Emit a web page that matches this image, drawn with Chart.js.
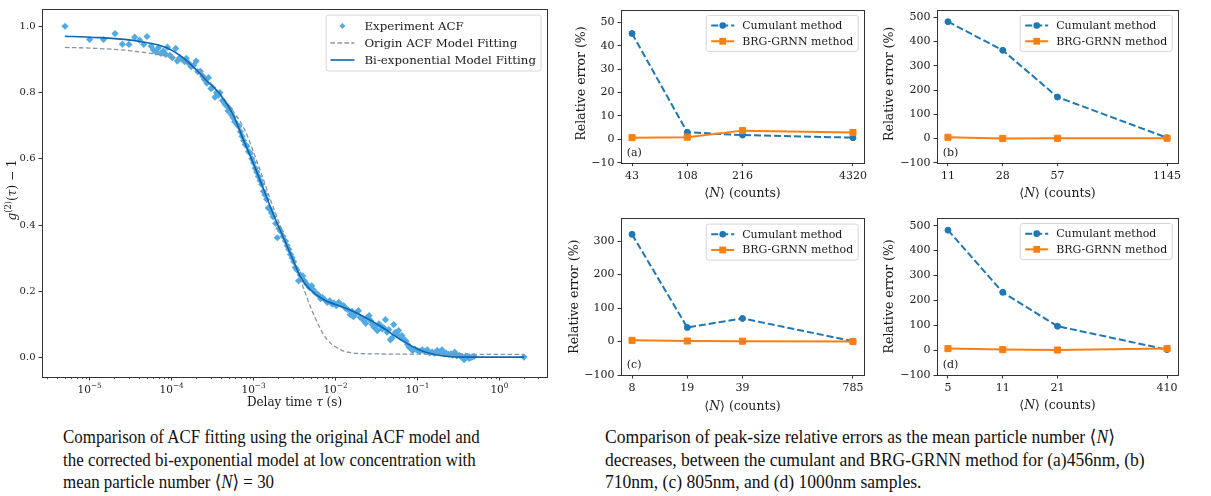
<!DOCTYPE html>
<html><head><meta charset="utf-8">
<script src="https://cdn.jsdelivr.net/npm/chart.js@4.4.0/dist/chart.umd.min.js"></script>
<style>
html,body{margin:0;padding:0;background:#fff;}
body{width:1211px;height:496px;overflow:hidden;position:relative;}
canvas{position:absolute;}
.cap{position:absolute;font-family:"Liberation Serif","Times New Roman","DejaVu Serif",serif;font-size:19px;line-height:22.5px;color:#111;white-space:nowrap;transform:scaleX(0.89);transform-origin:0 0;}
</style></head><body>
<canvas id="c0" width="560" height="420" style="left:0;top:0"></canvas>
<canvas id="ca" width="320" height="205" style="left:560px;top:0"></canvas>
<canvas id="cb" width="331" height="205" style="left:880px;top:0"></canvas>
<canvas id="cc" width="320" height="215" style="left:560px;top:205px"></canvas>
<canvas id="cd" width="331" height="215" style="left:880px;top:205px"></canvas>
<div class="cap" style="left:63px;top:426px">Comparison of ACF fitting using the original ACF model and<br>the corrected bi-exponential model at low concentration with<br>mean particle number ⟨<i>N</i>⟩ = 30</div>
<div class="cap" style="left:605px;top:426px;transform:scaleX(0.924)">Comparison of peak-size relative errors as the mean particle number ⟨<i>N</i>⟩<br>decreases, between the cumulant and BRG-GRNN method for (a)456nm, (b)<br>710nm, (c) 805nm, and (d) 1000nm samples.</div>
<script>
// ---------------- DATA ----------------
// Experiment ACF: [log10(tau / s), g2(tau)-1]
const expACF = [
[-5.30,1.000],[-5.00,0.960],[-4.83,0.960],[-4.69,0.978],[-4.60,0.946],[-4.52,0.945],[-4.45,0.967],[-4.39,0.958],
[-4.34,0.945],[-4.30,0.969],[-4.25,0.940],[-4.22,0.928],[-4.19,0.922],[-4.16,0.935],[-4.13,0.918],[-4.10,0.925],
[-4.07,0.915],[-4.05,0.937],[-4.02,0.912],[-3.99,0.905],[-3.95,0.933],[-3.93,0.895],[-3.90,0.905],[-3.87,0.900],
[-3.84,0.893],[-3.82,0.903],[-3.79,0.888],[-3.76,0.878],[-3.73,0.882],[-3.70,0.895],[-3.68,0.863],[-3.65,0.864],
[-3.62,0.850],[-3.60,0.840],[-3.57,0.828],[-3.55,0.845],[-3.52,0.812],[-3.50,0.815],[-3.47,0.786],[-3.45,0.800],
[-3.43,0.792],[-3.41,0.800],[-3.38,0.776],[-3.35,0.766],[-3.33,0.760],[-3.31,0.745],[-3.29,0.750],[-3.27,0.733],
[-3.25,0.725],[-3.23,0.712],[-3.20,0.703],[-3.18,0.698],[-3.16,0.682],[-3.14,0.668],[-3.12,0.655],[-3.10,0.643],
[-3.08,0.638],[-3.06,0.622],[-3.04,0.617],[-3.02,0.600],[-3.00,0.588],[-2.98,0.572],[-2.96,0.560],[-2.94,0.547],
[-2.92,0.535],[-2.90,0.523],[-2.88,0.502],[-2.86,0.492],[-2.84,0.478],[-2.82,0.452],[-2.80,0.448],[-2.78,0.437],
[-2.76,0.425],[-2.73,0.405],[-2.71,0.362],[-2.69,0.390],[-2.67,0.382],[-2.64,0.366],[-2.61,0.352],[-2.59,0.338],
[-2.57,0.327],[-2.55,0.312],[-2.53,0.302],[-2.51,0.290],[-2.49,0.272],[-2.47,0.265],[-2.45,0.232],[-2.43,0.250],
[-2.40,0.247],[-2.38,0.232],[-2.35,0.222],[-2.32,0.212],[-2.29,0.217],[-2.27,0.205],[-2.25,0.197],[-2.22,0.192],
[-2.20,0.187],[-2.18,0.178],[-2.16,0.182],[-2.13,0.175],[-2.10,0.167],[-2.07,0.172],[-2.04,0.162],[-2.02,0.165],
[-1.99,0.157],[-1.96,0.167],[-1.93,0.160],[-1.90,0.157],[-1.88,0.150],[-1.85,0.145],[-1.82,0.130],[-1.80,0.140],
[-1.78,0.124],[-1.76,0.132],[-1.74,0.137],[-1.72,0.142],[-1.70,0.122],[-1.67,0.118],[-1.655,0.112],[-1.63,0.104],
[-1.61,0.122],[-1.59,0.127],[-1.57,0.112],[-1.55,0.100],[-1.53,0.092],[-1.51,0.095],[-1.49,0.082],[-1.47,0.102],
[-1.45,0.097],[-1.43,0.087],[-1.41,0.090],[-1.39,0.115],[-1.37,0.077],[-1.35,0.085],[-1.33,0.054],[-1.31,0.060],
[-1.29,0.100],[-1.27,0.077],[-1.25,0.070],[-1.23,0.082],[-1.21,0.062],[-1.19,0.067],[-1.16,0.055],[-1.14,0.050],
[-1.12,0.040],[-1.10,0.032],[-1.08,0.028],[-1.06,0.022],[-1.03,0.026],[-1.00,0.022],[-0.97,0.020],[-0.94,0.024],
[-0.91,0.019],[-0.88,0.024],[-0.85,0.015],[-0.82,0.017],[-0.79,0.013],[-0.76,0.022],[-0.73,0.018],[-0.70,0.024],
[-0.67,0.012],[-0.65,0.014],[-0.62,0.010],[-0.59,0.012],[-0.57,0.008],[-0.545,0.017],[-0.52,0.006],[-0.49,0.007],
[-0.47,0.004],[-0.45,0.002],[-0.43,-0.006],[-0.41,0.005],[-0.39,0.004],[-0.37,-0.002],[-0.35,0.000],[-0.33,0.003],
[-0.31,0.004],[0.30,0.002]
];
// Origin ACF model fitting: [tau (s), value]
const originFit = [
[5e-6,0.936],[1e-5,0.934],[3.16e-5,0.926],[1e-4,0.905],[1.78e-4,0.880],[3.16e-4,0.822],[5.6e-4,0.745],
[7.9e-4,0.685],[1.0e-3,0.620],[1.26e-3,0.552],[1.58e-3,0.482],[2.0e-3,0.415],[2.5e-3,0.350],[3.16e-3,0.283],
[4.0e-3,0.215],[5.0e-3,0.151],[6.3e-3,0.095],[7.9e-3,0.055],[1.0e-2,0.033],[1.26e-2,0.020],[1.58e-2,0.015],
[2.5e-2,0.012],[0.1,0.011],[2.0,0.010]
];
// Bi-exponential model fitting: [tau (s), value]
const biExpFit = [
[5e-6,0.970],[1e-5,0.967],[3.16e-5,0.958],[8.7e-5,0.935],[1.5e-4,0.898],[2.7e-4,0.835],[3.9e-4,0.795],
[5.6e-4,0.735],[7.6e-4,0.655],[1.0e-3,0.585],[1.32e-3,0.510],[1.75e-3,0.432],[2.32e-3,0.362],[3.08e-3,0.292],
[3.72e-3,0.245],[4.93e-3,0.205],[7.2e-3,0.175],[1.26e-2,0.152],[2.0e-2,0.130],[3.55e-2,0.095],[6.5e-2,0.052],
[0.11,0.022],[0.19,0.007],[0.37,0.002],[2.0,0.002]
];
const acfXTicks = [1e-5,1e-4,1e-3,1e-2,1e-1,1e0];
const acfXTickExp = ['\u22125','\u22124','\u22123','\u22122','\u22121','0'];
const acfYTicks = [0.0,0.2,0.4,0.6,0.8,1.0];

// Relative error panels
const countsA = ['43','108','216','4320'];
const cumulantA = [45.2, 3.0, 1.8, 0.7];
const brgA = [0.7, 0.9, 3.7, 2.9];
const yTicksA = [-10,0,10,20,30,40,50];

const countsB = ['11','28','57','1145'];
const cumulantB = [482, 364, 171, 3];
const brgB = [5, 0, 1, 1];
const yTicksB = [-100,0,100,200,300,400,500];

const countsC = ['8','19','39','785'];
const cumulantC = [320, 42, 69, 1];
const brgC = [3.5, 1.5, 1, 0];
const yTicksC = [-100,0,100,200,300];

const countsD = ['5','11','21','410'];
const cumulantD = [482, 232, 96, 2];
const brgD = [6, 2, 0.5, 6];
const yTicksD = [-100,0,100,200,300,400,500];

// ---------------- STYLE / LAYOUT ----------------
const slotPos = [0, 1, 2, 4]; // axis slot of each count label (the last one set apart)
const BLUE='#1f77b4', ORANGE='#ff7f0e', LIGHT='#52a9e3', DARK='#0d66b0', GRAY='#8a929e', FRAME='#333', TXT='#1a1a1a';
const SERIF='"DejaVu Serif"';
Chart.defaults.font.family = SERIF;
Chart.defaults.color = TXT;
const fnt = (sz, it) => (it ? 'italic ' : '') + sz + 'px ' + SERIF;
const minus = v => v < 0 ? '\u2212' + Math.abs(v) : String(v);

function drawRich(ctx, x, y, rot, segs, size, align) {
  ctx.save(); ctx.translate(x, y); ctx.rotate(rot || 0);
  ctx.textBaseline = 'alphabetic'; ctx.textAlign = 'left'; ctx.fillStyle = TXT;
  const f = s => fnt(s.sup ? size * 0.7 : size, s.i);
  let w = 0; segs.forEach(s => { ctx.font = f(s); s.w = ctx.measureText(s.t).width; w += s.w; });
  let cx = align === 'left' ? 0 : -w / 2;
  segs.forEach(s => { ctx.font = f(s); ctx.fillText(s.t, cx, size * 0.36 - (s.sup ? size * 0.42 : 0)); cx += s.w; });
  ctx.restore();
}
function drawMarker(ctx, kind, x, y, r, color) {
  ctx.fillStyle = color; ctx.beginPath();
  if (kind === 'circle') ctx.arc(x, y, r, 0, Math.PI * 2);
  else if (kind === 'square') ctx.rect(x - r, y - r, 2 * r, 2 * r);
  else { ctx.moveTo(x, y - r); ctx.lineTo(x + r, y); ctx.lineTo(x, y + r); ctx.lineTo(x - r, y); ctx.closePath(); }
  ctx.fill();
}
function drawLegend(ctx, a, L) {
  ctx.font = fnt(L.fs);
  const tw = Math.max(...L.items.map(it => ctx.measureText(it.label).width));
  const w = L.tx + tw + L.padR, h = 2 * L.padV + L.items.length * L.rowH;
  const x0 = a.right - L.margin - w, y0 = a.top + L.margin;
  ctx.beginPath();
  if (ctx.roundRect) ctx.roundRect(x0, y0, w, h, 2.5); else ctx.rect(x0, y0, w, h);
  ctx.fillStyle = 'rgba(255,255,255,0.85)'; ctx.fill();
  ctx.strokeStyle = '#d6d6d6'; ctx.lineWidth = 1; ctx.stroke();
  L.items.forEach((it, i) => {
    const cy = y0 + L.padV + L.rowH * (i + 0.5);
    const hx = x0 + L.hx;
    if (it.lw) {
      ctx.save(); ctx.strokeStyle = it.color; ctx.lineWidth = it.lw; ctx.setLineDash(it.dash || []);
      ctx.beginPath(); ctx.moveTo(hx, cy); ctx.lineTo(hx + L.hl, cy); ctx.stroke(); ctx.restore();
    }
    if (it.marker) drawMarker(ctx, it.marker, hx + L.hl / 2, cy, it.mr, it.color);
    ctx.fillStyle = TXT; ctx.font = fnt(L.fs); ctx.textBaseline = 'middle'; ctx.textAlign = 'left';
    ctx.fillText(it.label, x0 + L.tx, cy + 0.5);
  });
}
function decor(spec) {
  return { id: 'decor', afterDraw(chart) {
    const ctx = chart.ctx, a = chart.chartArea;
    ctx.save();
    if (spec.log) {
      const s = chart.scales.x;
      ctx.strokeStyle = FRAME; ctx.lineWidth = 0.8;
      for (let k = -7; k <= 1; k++) for (let m = 2; m <= 9; m++) {
        const v = m * Math.pow(10, k);
        if (v < s.min || v > s.max) continue;
        const px = Math.round(s.getPixelForValue(v)) + 0.5;
        ctx.beginPath(); ctx.moveTo(px, a.bottom); ctx.lineTo(px, a.bottom + 2.2); ctx.stroke();
      }
      acfXTicks.forEach((v, i) => {
        const px = s.getPixelForValue(v), e = acfXTickExp[i];
        ctx.font = fnt(10.5); const w1 = ctx.measureText('10').width;
        ctx.font = fnt(7.3); const w2 = ctx.measureText(e).width;
        const x0 = px - (w1 + w2) / 2, base = a.bottom + 15.8;
        ctx.fillStyle = TXT; ctx.textAlign = 'left'; ctx.textBaseline = 'alphabetic';
        ctx.font = fnt(10.5); ctx.fillText('10', x0, base);
        ctx.font = fnt(7.3); ctx.fillText(e, x0 + w1, base - 4.8);
      });
    }
    ctx.strokeStyle = FRAME; ctx.lineWidth = 1;
    ctx.strokeRect(Math.round(a.left) + 0.5, Math.round(a.top) + 0.5, Math.round(a.right - a.left), Math.round(a.bottom - a.top));
    (spec.texts || []).forEach(t => drawRich(ctx, t.x, t.y, t.rot, t.segs.map(s => Object.assign({}, s)), t.size, t.align));
    if (spec.legend) drawLegend(ctx, a, spec.legend);
    ctx.restore();
  }};
}
function axisCommon(fs) {
  return {
    grid: { display: true, drawOnChartArea: false, drawTicks: true, tickLength: 3.5, color: FRAME, lineWidth: 1 },
    border: { display: false },
    ticks: { font: { size: fs, family: SERIF }, color: TXT, padding: 3, autoSkip: false, maxRotation: 0, minRotation: 0 }
  };
}

// ---------------- ACF CHART ----------------
(function () {
  const W = 560, H = 420, box = { left: 42, top: 7, right: 547, bottom: 377 };
  const xs = axisCommon(10), ys = axisCommon(10);
  new Chart(document.getElementById('c0'), {
    type: 'line',
    data: { datasets: [
      { label: 'Bi-exponential Model Fitting', data: biExpFit.map(p => ({ x: p[0], y: p[1] })),
        borderColor: DARK, borderWidth: 1.6, pointRadius: 0, fill: false, cubicInterpolationMode: 'monotone' },
      { label: 'Origin ACF Model Fitting', data: originFit.map(p => ({ x: p[0], y: p[1] })),
        borderColor: GRAY, borderWidth: 1.3, borderDash: [4.5, 2.5], pointRadius: 0, fill: false, cubicInterpolationMode: 'monotone' },
      { label: 'Experiment ACF', data: expACF.map(p => ({ x: Math.pow(10, p[0]), y: p[1] })),
        showLine: false, pointStyle: 'rectRot', pointRadius: 3.6, pointBorderWidth: 0,
        pointBackgroundColor: LIGHT, backgroundColor: LIGHT, borderColor: LIGHT }
    ] },
    options: {
      responsive: false, animation: false, events: [],
      layout: { padding: { top: box.top, right: W - box.right, left: 0, bottom: 0 } },
      plugins: { legend: { display: false }, tooltip: { enabled: false } },
      scales: {
        x: Object.assign(xs, { type: 'logarithmic', min: 2.624e-6, max: 3.81,
          afterBuildTicks: s => { s.ticks = acfXTicks.map(v => ({ value: v })); },
          afterFit: s => { s.height = H - box.bottom; },
          ticks: Object.assign(xs.ticks, { callback: () => '' }) }),
        y: Object.assign(ys, { type: 'linear', min: -0.058, max: 1.052,
          afterBuildTicks: s => { s.ticks = acfYTicks.map(v => ({ value: v })); },
          afterFit: s => { s.width = box.left; },
          ticks: Object.assign(ys.ticks, { callback: v => v.toFixed(1) }) })
      }
    },
    plugins: [decor({
      log: true,
      texts: [
        { x: 12, y: 190, rot: -Math.PI / 2, size: 12, segs: [{ t: 'g', i: true }, { t: '(2)', sup: true }, { t: '(' }, { t: '\u03c4', i: true }, { t: ') \u2212 1' }] },
        { x: 294.5, y: 401.7, size: 12, segs: [{ t: 'Delay time ' }, { t: '\u03c4', i: true }, { t: ' (s)' }] }
      ],
      legend: { fs: 11.8, rowH: 17, padV: 2.5, margin: 6, hx: 4.3, hl: 24, tx: 38.3, padR: 5, items: [
        { label: 'Experiment ACF', marker: 'diamond', mr: 3, color: LIGHT },
        { label: 'Origin ACF Model Fitting', lw: 1.3, dash: [4.5, 2.5], color: GRAY },
        { label: 'Bi-exponential Model Fitting', lw: 1.6, color: DARK }
      ] }
    })]
  });
})();

// ---------------- RELATIVE ERROR PANELS ----------------
function errChart(id, W, H, box, counts, cum, brg, yMin, yMax, yTicks, tag, ylabX, xlabY) {
  const pts = arr => arr.map((v, i) => ({ x: slotPos[i], y: v }));
  const xs = axisCommon(11), ys = axisCommon(11);
  new Chart(document.getElementById(id), {
    type: 'line',
    data: { datasets: [
      { label: 'BRG-GRNN method', data: pts(brg), borderColor: ORANGE, backgroundColor: ORANGE, borderWidth: 2,
        pointStyle: 'rect', pointRadius: 4.3, pointBorderWidth: 1, pointBorderColor: ORANGE, pointBackgroundColor: ORANGE, fill: false, tension: 0 },
      { label: 'Cumulant method', data: pts(cum), borderColor: BLUE, backgroundColor: BLUE, borderWidth: 2, borderDash: [7, 3],
        pointStyle: 'circle', pointRadius: 3, pointBorderWidth: 1, pointBorderColor: BLUE, pointBackgroundColor: BLUE, fill: false, tension: 0 }
    ] },
    options: {
      responsive: false, animation: false, events: [],
      layout: { padding: { top: box.top, right: W - box.right, left: 0, bottom: 0 } },
      plugins: { legend: { display: false }, tooltip: { enabled: false } },
      scales: {
        x: Object.assign(xs, { type: 'linear', min: -0.2, max: 4.2,
          afterBuildTicks: s => { s.ticks = slotPos.map(v => ({ value: v })); },
          afterFit: s => { s.height = H - box.bottom; },
          ticks: Object.assign(xs.ticks, { callback: (v, i) => counts[i] }) }),
        y: Object.assign(ys, { type: 'linear', min: yMin, max: yMax,
          afterBuildTicks: s => { s.ticks = yTicks.map(v => ({ value: v })); },
          afterFit: s => { s.width = box.left; },
          ticks: Object.assign(ys.ticks, { callback: v => minus(v) }) })
      }
    },
    plugins: [decor({
      texts: [
        { x: ylabX, y: (box.top + box.bottom) / 2, rot: -Math.PI / 2, size: 12.5, segs: [{ t: 'Relative error (%)' }] },
        { x: (box.left + box.right) / 2, y: xlabY, size: 12.5, segs: [{ t: '\u27e8' }, { t: 'N', i: true }, { t: '\u27e9 (counts)' }] },
        { x: box.left + 5.7, y: box.bottom - 10.5, size: 11, align: 'left', segs: [{ t: tag }] }
      ],
      legend: { fs: 11, rowH: 15.7, padV: 2.3, margin: 5.8, hx: 5, hl: 23, tx: 36, padR: 5, items: [
        { label: 'Cumulant method', lw: 2, dash: [7, 3], color: BLUE, marker: 'circle', mr: 3.3 },
        { label: 'BRG-GRNN method', lw: 2, color: ORANGE, marker: 'square', mr: 3.4 }
      ] }
    })]
  });
}
errChart('ca', 320, 205, { left: 61, top: 4.3, right: 304, bottom: 162.7 }, countsA, cumulantA, brgA, -10, 55.4, yTicksA, '(a)', 20, 192.7);
errChart('cb', 331, 205, { left: 57, top: 5, right: 298, bottom: 162.7 }, countsB, cumulantB, brgB, -100, 532, yTicksB, '(b)', 8.3, 192.7);
errChart('cc', 320, 215, { left: 61, top: 13.3, right: 304, bottom: 170 }, countsC, cumulantC, brgC, -100, 368, yTicksC, '(c)', 13.3, 200);
errChart('cd', 331, 215, { left: 57, top: 12.7, right: 298, bottom: 170 }, countsD, cumulantD, brgD, -100, 532, yTicksD, '(d)', 8, 199);
</script>
</body></html>
